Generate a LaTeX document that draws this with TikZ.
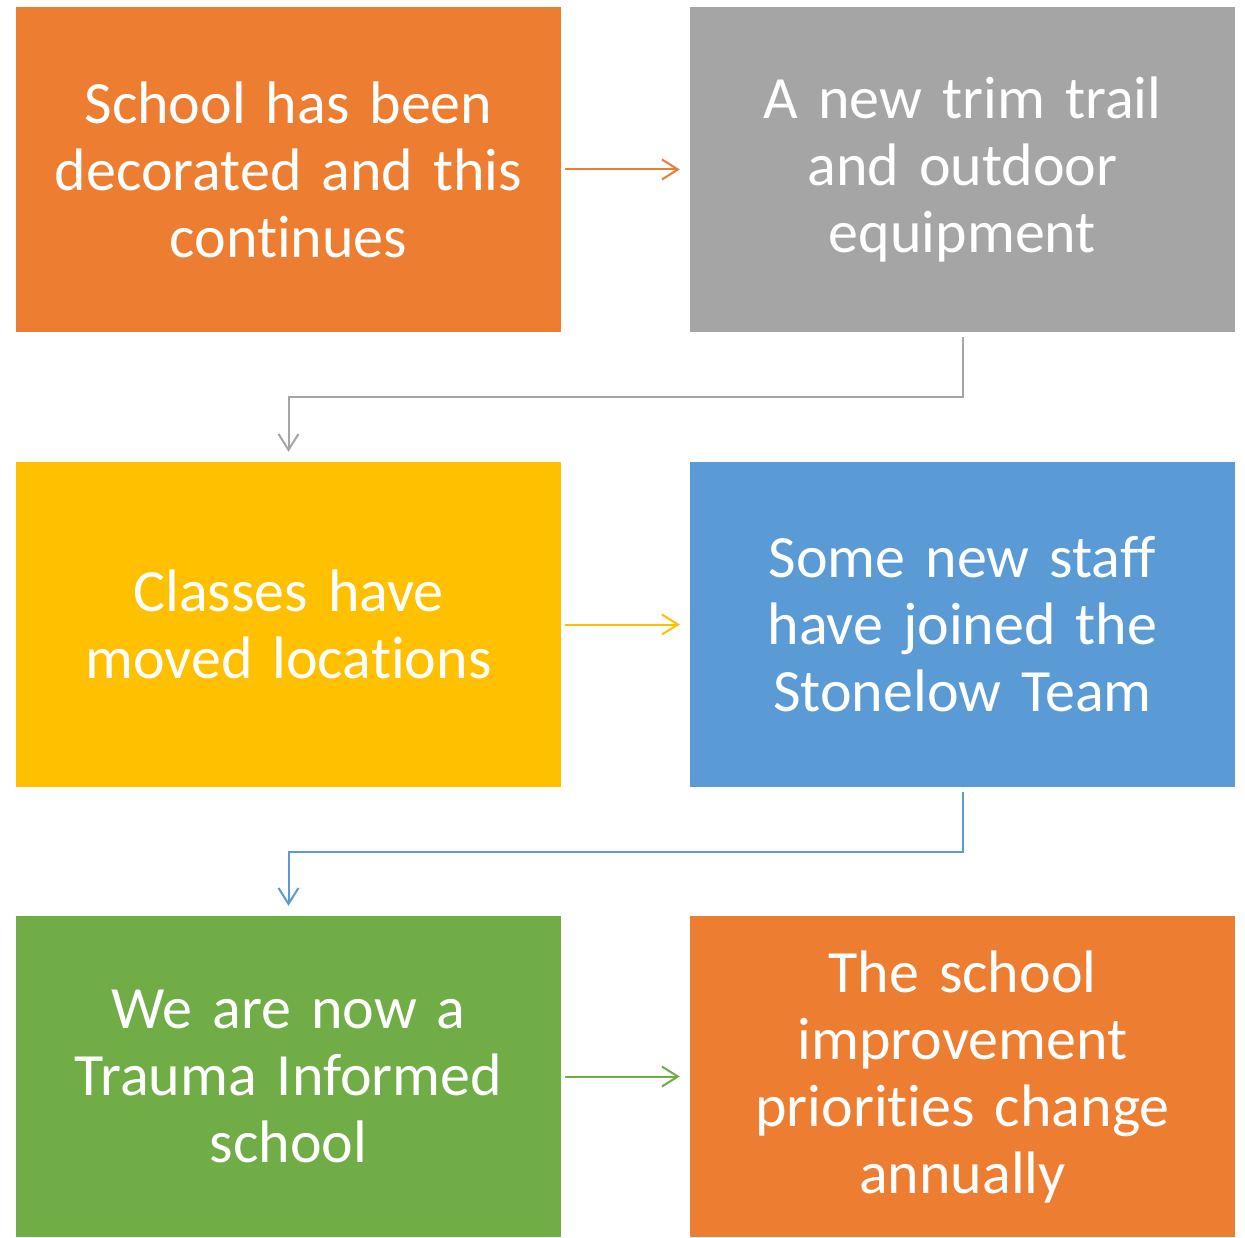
\documentclass[tikz,border=0pt]{standalone}
\usepackage{fontspec}
\setmainfont{Carlito}[Ligatures=NoCommon]
\usetikzlibrary{arrows.meta}
\definecolor{corange}{HTML}{ED7D31}
\definecolor{cgray}{HTML}{A5A5A5}
\definecolor{cyellow}{HTML}{FFC000}
\definecolor{cblue}{HTML}{5B9BD5}
\definecolor{cgreen}{HTML}{70AD47}
\tikzset{
  box/.style={draw=none, minimum width=545pt, minimum height=325pt, text width=540pt, align=center,
    text=white, inner sep=0pt, font=\fontsize{60pt}{67pt}\selectfont},
  conn/.style={line width=2pt, -{Straight Barb[length=16pt,width=20pt,line width=2pt]}},
}
\begin{document}
\begin{tikzpicture}[x=1pt,y=-1pt]
\useasboundingbox (0,0) rectangle (1245,1238);
\node[box, fill=corange] (b1) at (288.5,169.5) {School has been\\decorated and this\\continues};
\node[box, fill=cgray] (b2) at (962.5,169.5) {A new trim trail\\and outdoor\\equipment};
\node[box, fill=cyellow] (b3) at (288.5,624.5) {Classes have\\moved locations};
\node[box, fill=cblue] (b4) at (962.5,624.5) {Some new staff\\have joined the\\Stonelow Team};
\node[box, fill=cgreen, minimum height=321pt] (b5) at (288.5,1076.5) {We are now a\\Trauma Informed\\school};
\node[box, fill=corange, minimum height=321pt] (b6) at (962.5,1076.5) {The school\\improvement\\priorities change\\annually};
\draw[conn, corange] ([xshift=4pt]b1.east) -- ([xshift=-10pt]b2.west);
\draw[conn, cyellow] ([xshift=4pt]b3.east) -- ([xshift=-10pt]b4.west);
\draw[conn, cgreen] ([xshift=4pt]b5.east) -- ([xshift=-10pt]b6.west);
\draw[conn, cgray] ([yshift=-5pt]b2.south) -- ++(0,60) -| ([yshift=10pt]b3.north);
\draw[conn, cblue] ([yshift=-5pt]b4.south) -- ++(0,60) -| ([yshift=10pt]b5.north);
\end{tikzpicture}
\end{document}
